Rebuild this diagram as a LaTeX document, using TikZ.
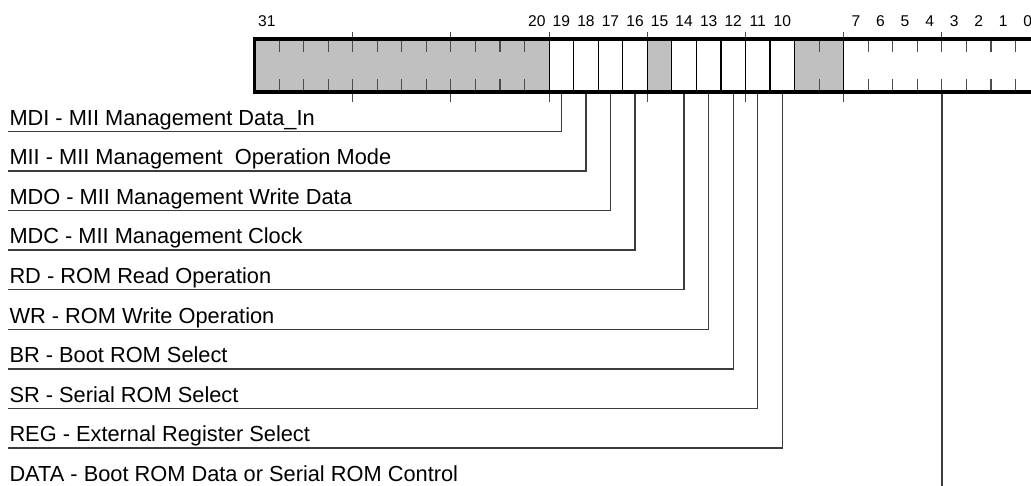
\documentclass[tikz,border=0pt]{standalone}
\usepackage{fontspec}
\setmainfont{Liberation Sans}
\definecolor{regfill}{RGB}{192,192,192}
\definecolor{linegray}{RGB}{60,60,60}
\begin{document}
\begin{tikzpicture}[x=1pt,y=-1pt,
  lbl/.style={anchor=base west,inner sep=0pt,font=\fontsize{21.8}{24}\selectfont},
  num/.style={anchor=base,inner sep=0pt,font=\fontsize{15.6}{18}\selectfont},
  conn/.style={draw=linegray,line width=1.3pt},
  sep/.style={draw=black,line width=1.2pt},
  tick/.style={draw=black!70,line width=1.1pt},
  border/.style={draw=black,line width=3.3pt}]
\useasboundingbox (0,0) rectangle (1031,485);
\clip (0,0) rectangle (1031,485);
\def\L{254.5}\def\W{24.55}\def\T{39}\def\B{92}
% gray fields
\fill[regfill] (\L,\T) rectangle ({\L+12*\W},\B);
\fill[regfill] ({\L+16*\W},\T) rectangle ({\L+17*\W},\B);
\fill[regfill] ({\L+22*\W},\T) rectangle ({\L+24*\W},\B);
% short ticks
\foreach \k in {1,2,3,4,5,6,7,8,9,10,11,23,25,26,27,28,29,30,31} {
  \draw[tick] ({\L+\k*\W},\T) -- ++(0,13);
  \draw[tick] ({\L+\k*\W},\B) -- ++(0,-13);
}
% full separators
\foreach \k in {12,13,14,15,16,17,18,19,20,21,22,24}
  \draw[sep] ({\L+\k*\W},\T) -- ({\L+\k*\W},\B);
% long ticks every 4 bits
\foreach \k in {4,8,12,16,20,24,28} {
  \draw[tick] ({\L+\k*\W},32) -- ({\L+\k*\W},\T);
  \draw[tick] ({\L+\k*\W},\B) -- ({\L+\k*\W},101.5);
}
% bit numbers
\foreach \b in {31,20,19,18,17,16,15,14,13,12,11,10,7,6,5,4,3,2,1,0}
  \node[num] (n\b) at ({\L+(31-\b+0.5)*\W},26.7) {\b};
% field labels and connectors
\foreach \i/\b/\t in {
  0/19/{MDI - MII Management Data\_In},
  1/18/{MII - MII Management\ \ Operation Mode},
  2/17/{MDO - MII Management Write Data},
  3/16/{MDC - MII Management Clock},
  4/14/{RD - ROM Read Operation},
  5/13/{WR - ROM Write Operation},
  6/12/{BR - Boot ROM Select},
  7/11/{SR - Serial ROM Select},
  8/10/{REG - External Register Select}} {
  \coordinate (c\b) at ({\L+(31-\b+0.5)*\W},\B);
  \coordinate (u\i) at (8,{131.3+39.6*\i});
  \node[lbl] (t\i) at (9.3,{125+39.6*\i}) {\t};
  \draw[conn] (c\b) |- (u\i);
}
\node[lbl] (t9) at (9.3,{125+39.6*9}) {DATA - Boot ROM Data or Serial ROM Control};
\coordinate (c3) at ({\L+28*\W},\B);
\coordinate (dend) at ({\L+28*\W},490);
\draw[conn] (c3) -- (dend);
% register border
\draw[border] (\L,\T) rectangle ({\L+32*\W},\B);
\end{tikzpicture}
\end{document}
